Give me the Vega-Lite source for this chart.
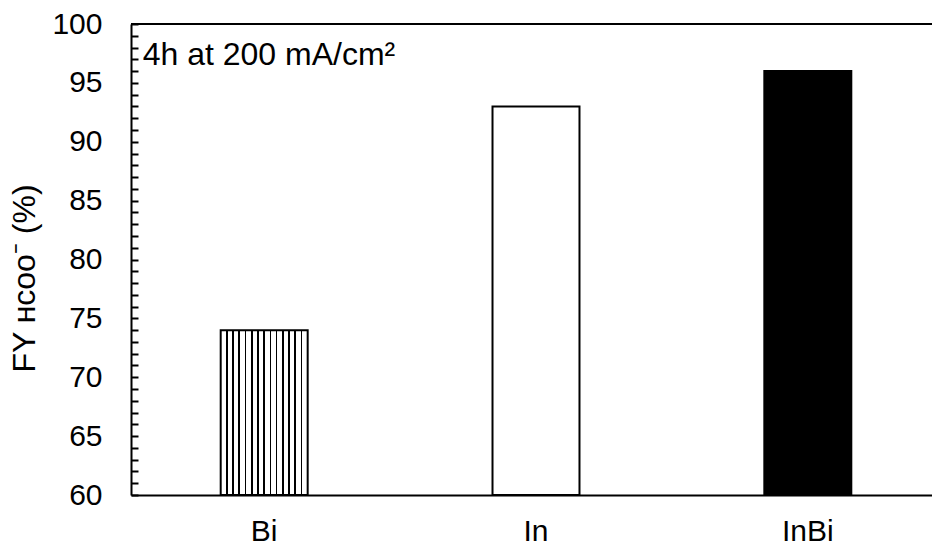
{
  "$schema": "https://vega.github.io/schema/vega-lite/v6.json",
  "width": 810,
  "height": 471,
  "autosize": {"type": "none"},
  "padding": {"left": 131, "top": 24, "right": 0, "bottom": 50},
  "background": "white",
  "config": {
    "font": "Liberation Sans",
    "view": {"stroke": null}
  },
  "data": {"values": [
    {"catalyst": "Bi", "fy": 74},
    {"catalyst": "In", "fy": 93},
    {"catalyst": "InBi", "fy": 96}
  ]},
  "encoding": {
    "x": {
      "field": "catalyst", "type": "nominal", "sort": ["Bi", "In", "InBi"],
      "scale": {"paddingInner": 0.68, "paddingOuter": 0.33},
      "axis": {"title": null, "labelAngle": 0, "ticks": false, "domainColor": "black", "domainWidth": 2,
               "labelFontSize": 30, "labelColor": "black", "labelPadding": 21}
    },
    "y": {
      "field": "fy", "type": "quantitative",
      "scale": {"domain": [60, 100], "zero": false, "nice": false},
      "axis": {
        "title": "FY ʜᴄᴏᴏ⁻  (%)",
        "values": [60,61,62,63,64,65,66,67,68,69,70,71,72,73,74,75,76,77,78,79,80,81,82,83,84,85,86,87,88,89,90,91,92,93,94,95,96,97,98,99,100],
        "labelExpr": "datum.value % 5 === 0 ? datum.label : ''",
        "labelOverlap": false, "labelFlush": false, "labelBound": false,
        "tickSize": -7, "tickWidth": 2, "tickColor": "black",
        "domainColor": "black", "domainWidth": 2, "grid": false,
        "labelFontSize": 30, "labelColor": "black", "labelPadding": 36,
        "titleFontSize": 32, "titleFontWeight": "normal", "titleColor": "black", "titlePadding": 10,
        "titleY": 254
      }
    }
  },
  "layer": [
    {
      "transform": [{"filter": "datum.catalyst === 'Bi'"}],
      "mark": {"type": "bar", "stroke": "black", "strokeWidth": 2,
        "fill": {"gradient": "linear", "x1": 0, "y1": 0, "x2": 1, "y2": 0, "stops": [
          {"offset": 0, "color": "white"},
          {"offset": 0.0614, "color": "white"}, {"offset": 0.0614, "color": "black"}, {"offset": 0.0814, "color": "black"}, {"offset": 0.0814, "color": "white"},
          {"offset": 0.1329, "color": "white"}, {"offset": 0.1329, "color": "black"}, {"offset": 0.1529, "color": "black"}, {"offset": 0.1529, "color": "white"},
          {"offset": 0.2043, "color": "white"}, {"offset": 0.2043, "color": "black"}, {"offset": 0.2243, "color": "black"}, {"offset": 0.2243, "color": "white"},
          {"offset": 0.2757, "color": "white"}, {"offset": 0.2757, "color": "black"}, {"offset": 0.2957, "color": "black"}, {"offset": 0.2957, "color": "white"},
          {"offset": 0.3471, "color": "white"}, {"offset": 0.3471, "color": "black"}, {"offset": 0.3671, "color": "black"}, {"offset": 0.3671, "color": "white"},
          {"offset": 0.4186, "color": "white"}, {"offset": 0.4186, "color": "black"}, {"offset": 0.4386, "color": "black"}, {"offset": 0.4386, "color": "white"},
          {"offset": 0.49, "color": "white"}, {"offset": 0.49, "color": "black"}, {"offset": 0.51, "color": "black"}, {"offset": 0.51, "color": "white"},
          {"offset": 0.5614, "color": "white"}, {"offset": 0.5614, "color": "black"}, {"offset": 0.5814, "color": "black"}, {"offset": 0.5814, "color": "white"},
          {"offset": 0.6329, "color": "white"}, {"offset": 0.6329, "color": "black"}, {"offset": 0.6529, "color": "black"}, {"offset": 0.6529, "color": "white"},
          {"offset": 0.7043, "color": "white"}, {"offset": 0.7043, "color": "black"}, {"offset": 0.7243, "color": "black"}, {"offset": 0.7243, "color": "white"},
          {"offset": 0.7757, "color": "white"}, {"offset": 0.7757, "color": "black"}, {"offset": 0.7957, "color": "black"}, {"offset": 0.7957, "color": "white"},
          {"offset": 0.8471, "color": "white"}, {"offset": 0.8471, "color": "black"}, {"offset": 0.8671, "color": "black"}, {"offset": 0.8671, "color": "white"},
          {"offset": 0.9186, "color": "white"}, {"offset": 0.9186, "color": "black"}, {"offset": 0.9386, "color": "black"}, {"offset": 0.9386, "color": "white"},
          {"offset": 1, "color": "white"}
        ]}
      },
      "encoding": {"y2": {"datum": 60}}
    },
    {
      "transform": [{"filter": "datum.catalyst === 'In'"}],
      "mark": {"type": "bar", "fill": "white", "stroke": "black", "strokeWidth": 2},
      "encoding": {"y2": {"datum": 60}}
    },
    {
      "transform": [{"filter": "datum.catalyst === 'InBi'"}],
      "mark": {"type": "bar", "fill": "black", "stroke": "black", "strokeWidth": 2},
      "encoding": {"y2": {"datum": 60}}
    },
    {
      "data": {"values": [{"top": 100}]},
      "mark": {"type": "rule", "color": "black", "strokeWidth": 2},
      "encoding": {"y": {"field": "top", "type": "quantitative"}, "x": null}
    },
    {
      "data": {"values": [{"note": "4h at 200 mA/cm²", "cat": "Bi", "level": 96.5}]},
      "mark": {"type": "text", "align": "left", "baseline": "alphabetic", "fontSize": 32, "color": "black", "dx": -78},
      "encoding": {
        "x": {"field": "cat", "type": "nominal", "bandPosition": 0},
        "y": {"field": "level", "type": "quantitative"},
        "text": {"field": "note"}
      }
    }
  ]
}
